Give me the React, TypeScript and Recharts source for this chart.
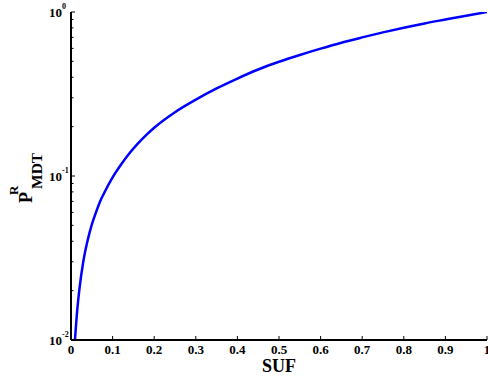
import React from 'react';
import { LineChart, Line, XAxis, YAxis } from 'recharts';

const sufValues = [
  0.0095, 0.015, 0.02, 0.03, 0.04, 0.05, 0.06, 0.07, 0.08, 0.1, 0.12, 0.14, 0.16, 0.18, 0.2,
  0.25, 0.3, 0.35, 0.4, 0.45, 0.5, 0.55, 0.6, 0.65, 0.7, 0.75, 0.8, 0.85, 0.9, 0.95, 1,
];
const pmdtValues = [
  0.01, 0.0152, 0.0202, 0.0305, 0.0405, 0.0505, 0.06, 0.07, 0.079, 0.098, 0.117, 0.137, 0.157,
  0.177, 0.197, 0.245, 0.292, 0.342, 0.393, 0.446, 0.497, 0.547, 0.598, 0.65, 0.7, 0.751, 0.802,
  0.852, 0.9, 0.95, 1,
];

const xTicks = [0, 0.1, 0.2, 0.3, 0.4, 0.5, 0.6, 0.7, 0.8, 0.9, 1];
const xTickLabels = ['0', '0.1', '0.2', '0.3', '0.4', '0.5', '0.6', '0.7', '0.8', '0.9', '1'];
const yTicks = [
  0.01, 0.02, 0.03, 0.04, 0.05, 0.06, 0.07, 0.08, 0.09, 0.1, 0.2, 0.3, 0.4, 0.5, 0.6, 0.7, 0.8,
  0.9, 1,
];
const yMajor: Record<string, string> = { '0.01': '-2', '0.1': '-1', '1': '0' };

const data = sufValues.map((x, i) => ({ suf: x, p: pmdtValues[i] }));

const FONT = '"Liberation Serif", "DejaVu Serif", serif';

const BottomTick = ({ x, y, payload, index }: any) => (
  <g>
    <line x1={x} y1={y} x2={x} y2={y - 4} stroke="#000" strokeWidth={1} />
    <text x={x} y={y + 14} textAnchor="middle" fontFamily={FONT} fontWeight="bold" fontSize={13} fill="#000">
      {xTickLabels[index] ?? payload.value}
    </text>
  </g>
);

const TopTick = ({ x, y }: any) => (
  <line x1={x} y1={y} x2={x} y2={y + 4} stroke="#000" strokeWidth={1} />
);

const LeftTick = ({ x, y, payload }: any) => {
  const exp = yMajor[String(payload.value)];
  const len = exp ? 4 : 2.5;
  return (
    <g>
      <line x1={x} y1={y} x2={x + len} y2={y} stroke="#000" strokeWidth={1} />
      {exp && (
        <text x={x - 22} y={y + 5} fontFamily={FONT} fontWeight="bold" fontSize={13} fill="#000">
          10
          <tspan dy={-8} fontSize={8}>
            {exp}
          </tspan>
        </text>
      )}
    </g>
  );
};

const RightTick = ({ x, y, payload }: any) => {
  const len = yMajor[String(payload.value)] ? 4 : 2.5;
  return <line x1={x} y1={y} x2={x - len} y2={y} stroke="#000" strokeWidth={1} />;
};

const YLabel = () => (
  <g transform="translate(32,203) rotate(-90)" fontFamily={FONT} fontWeight="bold" fill="#000">
    <text x={0} y={0} fontSize={18}>P</text>
    <text x={8} y={-14} fontSize={13}>R</text>
    <text x={14} y={10} fontSize={15.5}>MDT</text>
  </g>
);

const XLabel = () => (
  <text x={279} y={372} textAnchor="middle" fontFamily={FONT} fontWeight="bold" fontSize={18} fill="#000">
    SUF
  </text>
);

export default function App() {
  return (
    <div style={{ position: 'absolute', left: 0, top: 0, width: 488, height: 378, background: '#fff' }}>
      <LineChart width={488} height={378} data={data} margin={{ top: 12, right: 1, bottom: 0, left: 0 }}>
        <XAxis
          xAxisId="bottom"
          dataKey="suf"
          type="number"
          domain={[0, 1]}
          ticks={xTicks}
          interval={0}
          allowDataOverflow
          height={38}
          tickSize={0}
          tickMargin={0}
          tickLine={false}
          axisLine={{ stroke: '#000', strokeWidth: 2 }}
          tick={<BottomTick />}
          label={<XLabel />}
        />
        <XAxis
          xAxisId="top"
          orientation="top"
          dataKey="suf"
          type="number"
          domain={[0, 1]}
          ticks={xTicks}
          interval={0}
          allowDataOverflow
          height={0}
          tickSize={0}
          tickMargin={0}
          tickLine={false}
          axisLine={{ stroke: '#333', strokeWidth: 1.2 }}
          tick={<TopTick />}
        />
        <YAxis
          yAxisId="left"
          type="number"
          scale="log"
          domain={[0.01, 1]}
          ticks={yTicks}
          interval={0}
          allowDataOverflow
          width={71}
          tickSize={0}
          tickMargin={0}
          tickLine={false}
          axisLine={{ stroke: '#000', strokeWidth: 2 }}
          tick={<LeftTick />}
          label={<YLabel />}
        />
        <YAxis
          yAxisId="right"
          orientation="right"
          type="number"
          scale="log"
          domain={[0.01, 1]}
          ticks={yTicks}
          interval={0}
          allowDataOverflow
          width={0}
          tickSize={0}
          tickMargin={0}
          tickLine={false}
          axisLine={{ stroke: '#333', strokeWidth: 1.2 }}
          tick={<RightTick />}
        />
        <Line
          xAxisId="top"
          yAxisId="right"
          dataKey="p"
          stroke="none"
          dot={false}
          isAnimationActive={false}
        />
        <Line
          xAxisId="bottom"
          yAxisId="left"
          type="monotone"
          dataKey="p"
          stroke="#0000ff"
          strokeWidth={2.5}
          dot={false}
          isAnimationActive={false}
        />
      </LineChart>
    </div>
  );
}
